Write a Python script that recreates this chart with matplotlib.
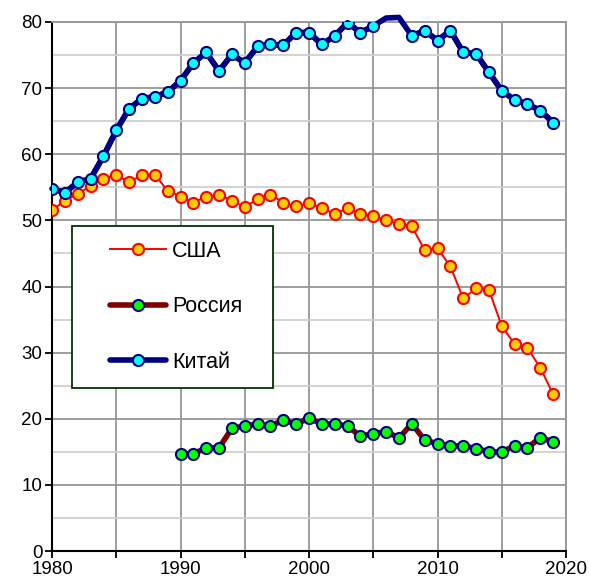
import numpy as np
import matplotlib
matplotlib.use("Agg")
import matplotlib.pyplot as plt
from matplotlib.ticker import MultipleLocator
from matplotlib.patches import Rectangle

plt.rcParams['font.family'] = ['Liberation Sans', 'DejaVu Sans']

years_usa = list(range(1980, 2020))
usa = [51.5, 53.0, 54.0, 55.2, 56.3, 56.9, 55.75, 56.9, 56.9, 54.5,
       53.6, 52.7, 53.6, 53.9, 53.0, 52.0, 53.2, 53.9, 52.7, 52.1,
       52.7, 51.8, 51.0, 51.8, 51.0, 50.7, 50.0, 49.45, 49.1, 45.5,
       45.8, 43.05, 38.2, 39.7, 39.5, 34.0, 31.3, 30.7, 27.7, 23.7]

years_rus = list(range(1990, 2020))
russia = [14.7, 14.7, 15.6, 15.6, 18.55, 18.9, 19.2, 18.9, 19.8, 19.2,
          20.1, 19.2, 19.2, 18.9, 17.35, 17.75, 18.05, 17.1, 19.25, 16.8,
          16.2, 15.9, 15.9, 15.5, 15.0, 15.0, 15.9, 15.6, 17.15, 16.5]

years_chn = list(range(1980, 2020))
china = [54.8, 54.2, 55.75, 56.3, 59.7, 63.6, 66.9, 68.4, 68.7, 69.4,
         71.1, 73.8, 75.4, 72.6, 75.1, 73.8, 76.3, 76.6, 76.5, 78.4,
         78.4, 76.6, 77.9, 79.9, 78.4, 79.4, 80.6, 80.7, 77.9, 78.7,
         77.2, 78.7, 75.4, 75.2, 72.4, 69.6, 68.2, 67.6, 66.6, 64.8]

labels = ['США', 'Россия', 'Китай']

W, H = 590, 585
fig = plt.figure(figsize=(W / 100, H / 100), dpi=100)
AX_L, AX_R, AX_T, AX_B = 52, 566, 22, 551
ax = fig.add_axes([AX_L / W, (H - AX_B) / H, (AX_R - AX_L) / W, (AX_B - AX_T) / H])

def fx(px):
    return px / W

def fy(py):
    return (H - py) / H

ax.set_xlim(1980, 2020)
ax.set_ylim(0, 80)
ax.xaxis.set_major_locator(MultipleLocator(10))
ax.xaxis.set_minor_locator(MultipleLocator(5))
ax.yaxis.set_major_locator(MultipleLocator(10))
ax.yaxis.set_minor_locator(MultipleLocator(5))

ax.grid(which='major', axis='both', color='#969696', lw=1.3, zorder=0)
ax.grid(which='minor', axis='x', color='#969696', lw=1.3, zorder=0)
ax.grid(which='minor', axis='y', color='#d0d0d0', lw=1.3, zorder=0)
ax.set_axisbelow(True)

for s in ['top', 'right']:
    ax.spines[s].set_color('#969696')
    ax.spines[s].set_linewidth(1.3)
for s in ['left', 'bottom']:
    ax.spines[s].set_color('black')
    ax.spines[s].set_linewidth(1.5)

ax.tick_params(which='major', direction='out', length=5, width=1.3, labelsize=13.5, colors='black', pad=2)
ax.tick_params(axis='x', which='minor', direction='out', length=5, width=1.3)
ax.tick_params(axis='y', which='minor', length=0)

ms = 8
l1, = ax.plot(years_usa, usa, color='#ff0000', lw=1.4, marker='o', ms=ms,
              mfc='#ffcc00', mec='#ff0000', mew=1.5, zorder=3, label=labels[0])
l2, = ax.plot(years_rus, russia, color='#800000', lw=4, marker='o', ms=ms,
              mfc='#00ff00', mec='#000080', mew=1.5, zorder=3, label=labels[1],
              solid_capstyle='round', solid_joinstyle='round')
ax.plot(years_chn, china, color='#000080', lw=4, zorder=3, clip_on=False,
        solid_capstyle='round', solid_joinstyle='round')
china_m = np.array(china, dtype=float)
china_m[china_m > 80] = np.nan
l3, = ax.plot(years_chn, china_m, color='#000080', lw=4, marker='o', ms=ms,
              mfc='#00ffff', mec='#000080', mew=1.5, zorder=4, label=labels[2],
              solid_capstyle='round', solid_joinstyle='round')

# legend box
lx0, ly0, lx1, ly1 = 72, 226, 273, 388
box = Rectangle((fx(lx0), fy(ly1)), fx(lx1) - fx(lx0), fy(ly0) - fy(ly1),
                transform=fig.transFigure, facecolor='white', edgecolor='#003300',
                lw=1.3, zorder=5)
fig.add_artist(box)
leg = fig.legend(handles=[l1, l2, l3], loc='upper left',
                 bbox_to_anchor=(fx(110), fy(241)),
                 frameon=False, fontsize=15.5, handlelength=2.6, labelspacing=1.6,
                 borderpad=0, handletextpad=0.28, borderaxespad=0)
leg.set_zorder(6)

fig.savefig('out.png', dpi=100)
